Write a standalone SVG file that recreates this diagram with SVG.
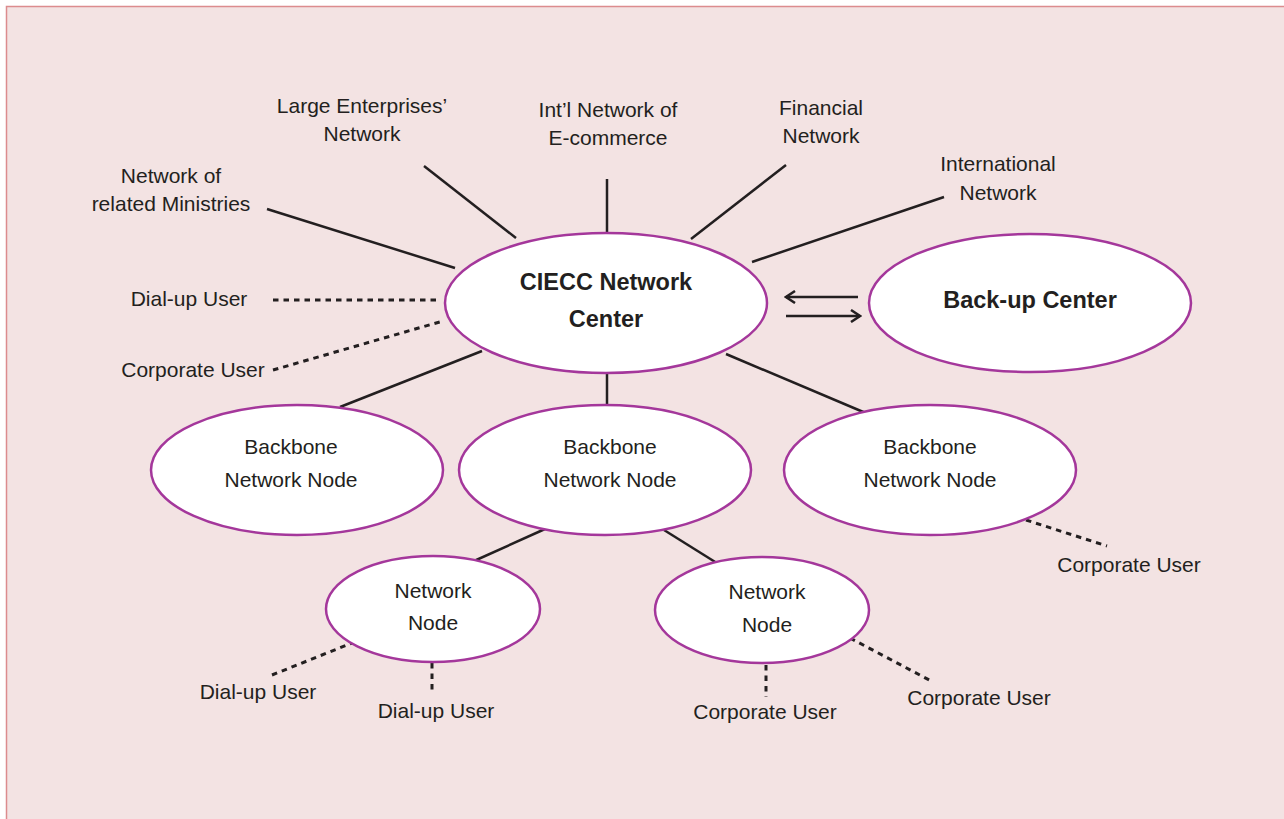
<svg xmlns="http://www.w3.org/2000/svg" width="1284" height="819" viewBox="0 0 1284 819">
<defs>
<style>
.bg{fill:#f3e3e3;stroke:#dc8c8e;stroke-width:1.5}
.node{fill:#ffffff;stroke:#a4379b;stroke-width:2.5}
.t{font-family:"Liberation Sans",Arial,sans-serif;font-size:21px;fill:#231f20;text-anchor:middle}
.b{font-family:"Liberation Sans",Arial,sans-serif;font-size:23.5px;font-weight:bold;fill:#231f20;text-anchor:middle}
.ln{stroke:#231f20;stroke-width:2.5;fill:none}
.dt{stroke:#231f20;stroke-width:3;fill:none;stroke-dasharray:5.5 5}
</style>
<marker id="arr" viewBox="0 0 14 14" refX="12" refY="7" markerWidth="14" markerHeight="14" markerUnits="userSpaceOnUse" orient="auto">
<path d="M3,1 L12,7 L3,13" fill="none" stroke="#231f20" stroke-width="2.5"/>
</marker>
</defs>
<rect class="bg" x="6.5" y="6.5" width="1290" height="830"/>
<g id="connectors">
<line class="ln" x1="267" y1="209" x2="455" y2="268"/>
<line class="ln" x1="424" y1="166" x2="516" y2="238"/>
<line class="ln" x1="607" y1="179" x2="607" y2="232"/>
<line class="ln" x1="786" y1="165" x2="691" y2="239"/>
<line class="ln" x1="944" y1="197" x2="752" y2="262"/>
<line class="dt" x1="273" y1="300" x2="438" y2="300"/>
<line class="dt" x1="273" y1="370" x2="443" y2="321"/>
<line class="ln" x1="340" y1="407" x2="482" y2="351"/>
<line class="ln" x1="607" y1="370" x2="607" y2="409"/>
<line class="ln" x1="726" y1="354" x2="868" y2="414"/>
<line class="ln" x1="474" y1="561" x2="545" y2="529"/>
<line class="ln" x1="664" y1="530" x2="720" y2="565"/>
<line class="dt" x1="1026" y1="520" x2="1107" y2="546"/>
<line class="dt" x1="272" y1="675" x2="352" y2="643"/>
<line class="dt" x1="432" y1="663" x2="432" y2="694"/>
<line class="dt" x1="766" y1="665" x2="766" y2="697"/>
<line class="dt" x1="850" y1="638" x2="933" y2="682"/>
<line class="ln" x1="858" y1="297" x2="786" y2="297" marker-end="url(#arr)"/>
<line class="ln" x1="786" y1="316" x2="860" y2="316" marker-end="url(#arr)"/>
</g>
<g id="ciecc">
<ellipse class="node" cx="606" cy="303" rx="161" ry="70"/>
<text class="b" x="606" y="290">CIECC Network</text>
<text class="b" x="606" y="327">Center</text>
</g>
<g id="backup">
<ellipse class="node" cx="1030" cy="303" rx="161" ry="69"/>
<text class="b" x="1030" y="308">Back-up Center</text>
</g>
<g id="backbone1">
<ellipse class="node" cx="297" cy="470" rx="146" ry="65"/>
<text class="t" x="291" y="454">Backbone</text>
<text class="t" x="291" y="487">Network Node</text>
</g>
<g id="backbone2">
<ellipse class="node" cx="605" cy="470" rx="146" ry="65"/>
<text class="t" x="610" y="454">Backbone</text>
<text class="t" x="610" y="487">Network Node</text>
</g>
<g id="backbone3">
<ellipse class="node" cx="930" cy="470" rx="146" ry="65"/>
<text class="t" x="930" y="454">Backbone</text>
<text class="t" x="930" y="487">Network Node</text>
</g>
<g id="netnode1">
<ellipse class="node" cx="433" cy="609" rx="107" ry="53"/>
<text class="t" x="433" y="598">Network</text>
<text class="t" x="433" y="630">Node</text>
</g>
<g id="netnode2">
<ellipse class="node" cx="762" cy="610" rx="107" ry="53"/>
<text class="t" x="767" y="599">Network</text>
<text class="t" x="767" y="632">Node</text>
</g>
<g id="labels">
<text class="t" x="362" y="113">Large Enterprises’</text>
<text class="t" x="362" y="141">Network</text>
<text class="t" x="608" y="117">Int’l Network of</text>
<text class="t" x="608" y="145">E-commerce</text>
<text class="t" x="821" y="115">Financial</text>
<text class="t" x="821" y="143">Network</text>
<text class="t" x="998" y="171">International</text>
<text class="t" x="998" y="200">Network</text>
<text class="t" x="171" y="183">Network of</text>
<text class="t" x="171" y="211">related Ministries</text>
<text class="t" x="189" y="306">Dial-up User</text>
<text class="t" x="193" y="377">Corporate User</text>
<text class="t" x="1129" y="572">Corporate User</text>
<text class="t" x="258" y="699">Dial-up User</text>
<text class="t" x="436" y="718">Dial-up User</text>
<text class="t" x="765" y="719">Corporate User</text>
<text class="t" x="979" y="705">Corporate User</text>
</g>
</svg>
